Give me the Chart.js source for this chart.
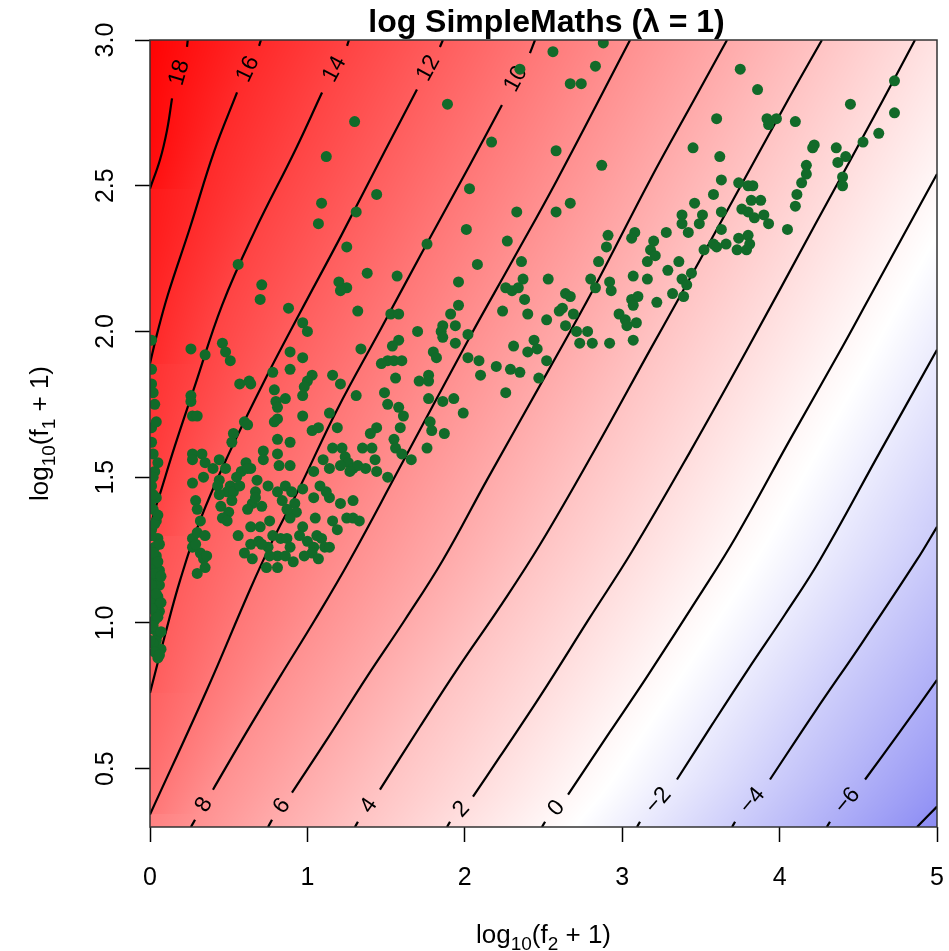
<!DOCTYPE html>
<html>
<head>
<meta charset="utf-8">
<script src="https://cdn.jsdelivr.net/npm/chart.js@4.4.0/dist/chart.umd.min.js"></script>
<style>
  html, body { margin: 0; padding: 0; background: #fff; }
</style>
</head>
<body>
<canvas id="c" width="949" height="951"></canvas>
<script>
// axis ticks
const xTicks = [0, 1, 2, 3, 4, 5];
const yTicks = [0.5, 1.0, 1.5, 2.0, 2.5, 3.0];

// contour lines, [log10(f2+1), log10(f1+1)], null = gap where the label sits
const contour18 = [[0.24,3.0],[0.235,2.976],null,[0.14,2.80],[0.108,2.69],[0.064,2.59],[0,2.49]];
const contour16 = [[0.705,3.0],[0.693,2.98],null,[0.553,2.82],[0.407,2.617],[0.254,2.356],[0.114,2.127],[0.044,1.99],[0,1.89]];
const contour14 = [[1.264,3.0],[1.252,2.98],null,[1.093,2.82],[0.921,2.62],[0.667,2.346],[0.457,2.089],[0.286,1.815],[0.159,1.609],[0.070,1.454],[0.019,1.364],[0,1.30]];
const contour12 = [[1.861,3.0],[1.842,2.976],null,[1.696,2.83],[1.493,2.62],[1.214,2.328],[0.953,2.064],[0.712,1.815],[0.496,1.575],[0.318,1.352],[0.191,1.146],[0.095,0.958],[0,0.76]];
const contour10 = [[2.446,3.0],[2.414,2.955],null,[2.236,2.777],[2.039,2.578],[1.747,2.29],[1.474,2.016],[1.188,1.731],[0.953,1.467],[0.781,1.285],[0.635,1.114],[0.362,0.771],[0,0.343]];
const contour8 = [[3.05,3.0],[2.586,2.52],[2.306,2.246],[2.033,1.982],[1.569,1.515],[1.271,1.217],[1.048,1.011],[0.826,0.816],[0.604,0.617],[0.40,0.428],null,[0.286,0.325],[0.26,0.30]];
const contour6 = [[3.666,3.0],[3.456,2.794],[3.177,2.52],[2.815,2.143],[2.541,1.876],[2.141,1.491],[1.862,1.217],[1.620,1.011],[1.379,0.816],[1.144,0.617],[0.902,0.418],null,[0.775,0.325],[0.75,0.30]];
const contour4 = [[4.269,3.0],[4.053,2.794],[3.704,2.451],[3.354,2.108],[3.177,1.937],[2.827,1.595],[2.478,1.269],[2.224,1.056],[1.963,0.850],[1.715,0.644],[1.461,0.428],null,[1.321,0.318],[1.302,0.30]];
const contour2 = [[4.86,3.0],[4.657,2.794],[4.225,2.366],[3.793,1.937],[3.431,1.587],[3.062,1.245],[2.795,1.019],[2.478,0.748],[2.224,0.542],[2.052,0.404],null,[1.906,0.318],[1.887,0.30]];
const contour0 = [[5.0,2.54],[4.562,2.108],[4.403,1.951],[4.066,1.629],[3.723,1.296],[3.494,1.097],[3.158,0.816],[2.923,0.627],[2.656,0.411],null,[2.51,0.318],[2.49,0.30]];
const contourM2 = [[5.0,1.937],[4.638,1.587],[4.257,1.217],[4.034,1.029],[3.799,0.84],[3.571,0.651],[3.348,0.463],null,[3.113,0.318],[3.094,0.30]];
const contourM4 = [[5.0,1.33],[4.873,1.217],[4.524,0.932],[4.225,0.696],[3.939,0.463],null,[3.717,0.318],[3.698,0.30]];
const contourM6 = [[5.0,0.805],[4.765,0.627],[4.543,0.463],null,[4.32,0.318],[4.30,0.30]];
const contourM8 = [[5.0,0.37],[4.873,0.30]];

const contourLevels = [18, 16, 14, 12, 10, 8, 6, 4, 2, 0, -2, -4, -6, -8];
const contourLines = [contour18, contour16, contour14, contour12, contour10, contour8, contour6,
  contour4, contour2, contour0, contourM2, contourM4, contourM6, contourM8];

// genes: [log10(f2+1), log10(f1+1)]
const genePoints = [
  [0.01,1.97],[0.01,1.82],[0.03,1.75],[0.01,1.67],[0.02,1.58],[0.03,1.52],[0.01,1.47],[0.04,1.43],
  [0.02,1.39],[0.04,1.35],[0.01,1.32],[0.05,1.29],[0.03,1.26],[0.04,1.23],[0.01,1.20],[0.06,1.18],
  [0.03,1.15],[0.01,1.11],[0.05,1.09],[0.03,1.06],[0.06,1.04],[0.03,1.01],[0.01,0.98],[0.05,0.96],
  [0.04,0.94],[0.07,0.91],[0.05,0.88],[0.0,1.41],[0.0,1.22],[0.0,1.08],[0.04,1.03],[0.02,0.93],
  [0.03,1.34],[0.06,1.13],[0.0,0.94],
  [0.02,1.44],[0.05,1.37],[0.01,1.30],[0.06,1.27],[0.02,1.24],[0.05,1.21],[0.03,1.17],[0.07,1.16],
  [0.01,1.13],[0.04,1.10],[0.07,1.07],[0.01,1.05],[0.05,1.02],[0.02,0.99],[0.07,0.97],[0.03,0.90],
  [0.06,0.89],[0.02,1.50],[0.05,1.55],[0.01,1.62],[0.04,1.69],[0.02,1.79],[0.01,1.87],
  [1.89,2.78],[1.30,2.72],[1.12,2.60],[1.44,2.47],[1.09,2.44],[1.31,2.41],[1.07,2.37],[2.03,2.49],
  [2.01,2.35],[1.25,2.29],[1.76,2.30],[0.56,2.23],[1.38,2.20],[1.57,2.19],[1.96,2.17],[0.71,2.16],
  [1.20,2.17],[1.25,2.15],[1.21,2.14],[0.70,2.11],[0.88,2.08],[1.32,2.07],[1.53,2.06],[1.58,2.06],
  [2.88,2.99],[2.56,2.96],[2.35,2.90],[2.83,2.91],[2.67,2.85],[2.74,2.85],[3.75,2.90],[3.86,2.83],
  [4.73,2.86],[4.73,2.75],[4.45,2.78],[4.63,2.68],[4.53,2.65],[2.17,2.65],[2.58,2.62],[2.87,2.57],
  [3.60,2.73],[3.92,2.73],[3.98,2.73],[3.93,2.71],[4.10,2.72],[3.45,2.63],[3.62,2.60],[4.22,2.64],
  [4.21,2.63],[4.36,2.63],[4.42,2.60],[4.37,2.58],[4.17,2.57],[4.17,2.54],[4.14,2.51],[4.40,2.53],
  [4.40,2.50],[4.11,2.47],[4.10,2.43],[4.05,2.35],
  [2.33,2.41],[2.58,2.41],[2.67,2.44],[2.27,2.31],[2.08,2.23],[2.36,2.24],[2.53,2.18],[2.26,2.15],
  [2.30,2.14],[2.34,2.15],[2.37,2.18],[2.38,2.11],[2.40,2.06],[2.24,2.07],[1.96,2.09],[1.91,2.06],
  [1.94,2.02],[1.86,2.02],[1.85,2.00],[1.86,1.98],[1.94,1.96],[2.02,1.99],[1.70,2.00],[1.58,1.97],
  [1.54,1.95],[1.80,1.93],[1.82,1.91],[1.51,1.90],[1.55,1.90],[1.60,1.90],[1.47,1.89],[2.02,1.91],
  [2.09,1.90],[2.20,1.88],[2.29,1.87],[2.35,1.86],[2.10,1.85],[2.31,1.95],[2.40,1.93],[2.44,1.97],
  [2.46,1.94],[2.52,1.90],[2.47,1.84],[2.26,1.79],[2.60,2.07],[2.62,2.08],[2.52,2.04],[2.64,2.13],
  [2.67,2.12],[2.69,2.06],[2.64,2.02],[2.71,2.00],[2.78,2.00],[2.73,1.96],[2.81,1.96],[2.92,1.96],
  [2.91,2.33],[2.90,2.29],[3.08,2.34],[3.06,2.32],[3.20,2.31],[3.18,2.28],[3.16,2.24],[2.85,2.24],
  [2.80,2.18],[2.92,2.17],[2.93,2.14],[2.83,2.15],[3.07,2.19],[3.16,2.18],[3.22,2.10],[3.06,2.11],
  [3.10,2.12],[3.07,2.09],[2.98,2.06],[3.02,2.04],[3.09,2.03],[3.03,2.02],[3.07,1.97],
  [1.56,1.84],[1.71,1.83],[1.77,1.85],[1.77,1.83],[1.77,1.77],[1.86,1.76],[1.93,1.77],[1.99,1.72],
  [1.49,1.79],[1.51,1.75],[1.58,1.74],[1.61,1.71],[1.59,1.67],[1.78,1.69],[1.79,1.66],[1.87,1.65],
  [1.76,1.60],[1.55,1.63],[1.56,1.60],[1.60,1.58],[1.66,1.56],[1.51,1.50],
  [3.63,2.52],[3.74,2.51],[3.80,2.50],[3.83,2.50],[3.58,2.47],[3.82,2.45],[3.88,2.45],[3.46,2.44],
  [3.63,2.41],[3.76,2.42],[3.80,2.41],[3.84,2.39],[3.90,2.40],[3.93,2.37],[3.38,2.40],[3.51,2.40],
  [3.38,2.37],[3.49,2.37],[3.42,2.34],[3.28,2.34],[3.21,2.26],[3.36,2.24],[3.63,2.35],[3.58,2.30],
  [3.66,2.30],[3.60,2.29],[3.52,2.28],[3.74,2.32],[3.80,2.33],[3.81,2.30],[3.73,2.28],[3.79,2.28],
  [3.29,2.21],[3.44,2.20],[3.38,2.18],[3.41,2.16],[3.32,2.13],[3.39,2.12],
  [0.97,2.03],[1.00,2.00],[0.26,1.94],[0.35,1.92],[0.46,1.96],[0.48,1.93],[0.51,1.90],[0.89,1.93],
  [0.97,1.91],[1.34,1.94],[0.78,1.86],[0.89,1.87],[0.57,1.82],[0.63,1.83],[0.64,1.82],[1.03,1.85],
  [1.00,1.83],[0.98,1.81],[0.97,1.78],[1.16,1.85],[1.21,1.82],[0.79,1.80],[0.80,1.76],[0.81,1.74],
  [0.86,1.77],[1.31,1.78],[0.26,1.78],[0.26,1.76],[0.27,1.71],[0.30,1.71],[0.60,1.69],[0.62,1.68],
  [0.79,1.69],[0.81,1.70],[0.97,1.71],[1.14,1.72],[1.03,1.66],[1.07,1.67],[1.19,1.67],[1.44,1.67],
  [1.40,1.65],[0.53,1.65],[0.52,1.62],[1.35,1.60],[1.41,1.60],[1.16,1.60],[1.22,1.60],[0.81,1.63],
  [0.89,1.62],[0.81,1.58],[0.82,1.54],[0.89,1.54],[0.72,1.59],[0.72,1.56],[1.04,1.52],[1.10,1.56],
  [1.24,1.57],[1.26,1.55],[1.29,1.53],[1.32,1.54],[1.27,1.52],[1.43,1.56],[1.44,1.52],[0.27,1.58],
  [0.33,1.58],[0.27,1.56],[0.44,1.56],[0.48,1.53],[0.34,1.50],[0.27,1.48],[0.44,1.49],[0.43,1.47],
  [0.61,1.55],[0.64,1.53],[0.58,1.52],[0.55,1.50],[0.68,1.49],[0.51,1.47],[0.49,1.45],[0.44,1.44],
  [0.53,1.45],[0.57,1.47],[0.75,1.47],[0.67,1.45],[0.65,1.41],[0.45,1.40],[0.50,1.38],[0.46,1.36],
  [0.49,1.35],[0.62,1.39],[0.29,1.42],[0.30,1.39],[0.64,1.33],[0.70,1.33],[0.76,1.35],[0.81,1.45],
  [0.84,1.42],[0.97,1.46],[1.04,1.43],[0.92,1.41],[0.93,1.38],[0.89,1.36],[0.97,1.33],[1.05,1.36],
  [1.14,1.43],[1.12,1.45],[1.21,1.41],[1.29,1.42],[1.25,1.36],[1.29,1.36],[1.16,1.35],[0.56,1.30],
  [0.64,1.27],[0.69,1.28],[0.75,1.26],[0.78,1.30],[0.83,1.29],[0.87,1.29],[0.89,1.26],[0.81,1.23],
  [0.86,1.23],[0.74,1.19],[0.81,1.19],[0.91,1.21],[0.65,1.22],[1.00,1.28],[1.06,1.30],[1.09,1.29],
  [1.04,1.26],[1.11,1.26],[1.14,1.26],[1.03,1.24],[0.27,1.29],[0.27,1.26],[0.30,1.31],[0.35,1.30],
  [0.32,1.24],[0.34,1.22],[0.35,1.19],[0.30,1.17],
  [0.62,1.53],[0.67,1.43],[0.71,1.40],[0.86,1.47],[0.90,1.45],[0.87,1.39],[0.95,1.30],[0.98,1.23],
  [1.07,1.22],[0.76,1.23],[0.71,1.27],[0.60,1.24],[0.32,1.35],[0.29,1.27],[0.36,1.23],[0.52,1.42],
  [0.40,1.53],[0.35,1.55],[1.21,1.54],[1.37,1.53],[1.14,1.53],[1.08,1.47],[1.19,1.32],[1.33,1.35]
];

// colour ramp: white near z = -0.7, red above, blue below
const zWhite = -0.7, zRedSpan = 20, zBlueSpan = 17;
function zColor(z) {
  const t = z - zWhite;
  if (t >= 0) {
    const f = Math.min(t / zRedSpan, 1);
    return [255, 255 * (1 - f), 255 * (1 - f)];
  }
  const f = Math.min(-t / zBlueSpan, 1);
  return [255 * (1 - f), 255 * (1 - f), 255 - 25 * f];
}

// background field: interpolate z along each pixel row between contour crossings
function buildHeatmap(chart) {
  const {chartArea: a, scales: {x: sx, y: sy}} = chart;
  const w = Math.round(a.right - a.left), h = Math.round(a.bottom - a.top);
  const lines = contourLevels.map((lv, i) => ({
    level: lv,
    pts: contourLines[i].filter(Boolean).map(p => [sx.getPixelForValue(p[0]), sy.getPixelForValue(p[1])])
  }));
  const off = document.createElement('canvas');
  off.width = w; off.height = h;
  const octx = off.getContext('2d');
  const img = octx.createImageData(w, h);
  for (let r = 0; r < h; r++) {
    const py = a.top + r + 0.5;
    const cross = [];
    lines.forEach(ln => {
      const p = ln.pts;
      for (let k = 0; k < p.length - 1; k++) {
        const y0 = p[k][1], y1 = p[k + 1][1];
        if (y0 !== y1 && (py - y0) * (py - y1) <= 0) {
          cross.push([p[k][0] + (p[k + 1][0] - p[k][0]) * (py - y0) / (y1 - y0), ln.level]);
          break;
        }
      }
    });
    cross.sort((m, n) => m[0] - n[0]);
    let k = 0;
    for (let c = 0; c < w; c++) {
      const px = a.left + c + 0.5;
      while (k < cross.length - 2 && px > cross[k + 1][0]) k++;
      const [xa, za] = cross[k], [xb, zb] = cross[k + 1];
      const col = zColor(za + (zb - za) * (px - xa) / (xb - xa));
      const o = (r * w + c) * 4;
      img.data[o] = col[0]; img.data[o + 1] = col[1]; img.data[o + 2] = col[2]; img.data[o + 3] = 255;
    }
  }
  octx.putImageData(img, 0, 0);
  return off;
}

function drawContourLabels(chart) {
  const {ctx, scales: {x: sx, y: sy}} = chart;
  ctx.save();
  ctx.font = '23px "Liberation Sans", Arial, sans-serif';
  ctx.fillStyle = '#000';
  ctx.textAlign = 'center';
  ctx.textBaseline = 'middle';
  contourLines.forEach((line, i) => {
    const g = line.indexOf(null);
    if (g < 1) return;
    let p0 = [sx.getPixelForValue(line[g - 1][0]), sy.getPixelForValue(line[g - 1][1])];
    let p1 = [sx.getPixelForValue(line[g + 1][0]), sy.getPixelForValue(line[g + 1][1])];
    if (p1[0] < p0[0]) [p0, p1] = [p1, p0];
    const lv = contourLevels[i];
    ctx.save();
    ctx.translate((p0[0] + p1[0]) / 2, (p0[1] + p1[1]) / 2);
    ctx.rotate(Math.atan2(p1[1] - p0[1], p1[0] - p0[0]));
    ctx.fillText(lv < 0 ? '\u2212' + (-lv) : String(lv), 0, 0);
    ctx.restore();
  });
  ctx.restore();
}

// text with plotmath-like subscripts, centred on (0,0) baseline
function drawSubText(ctx, parts) {
  const big = '26px "Liberation Sans", Arial, sans-serif';
  const small = '19px "Liberation Sans", Arial, sans-serif';
  let total = 0;
  parts.forEach(p => { ctx.font = p[1] ? small : big; total += ctx.measureText(p[0]).width; });
  let x = -total / 2;
  ctx.textAlign = 'left';
  ctx.textBaseline = 'alphabetic';
  parts.forEach(p => {
    ctx.font = p[1] ? small : big;
    ctx.fillText(p[0], x, p[1] ? 7 : 0);
    x += ctx.measureText(p[0]).width;
  });
}

let heatImg = null;
const decorPlugin = {
  id: 'decor',
  beforeDatasetsDraw(chart) {
    const {ctx, chartArea: a} = chart;
    if (!heatImg) heatImg = buildHeatmap(chart);
    ctx.drawImage(heatImg, a.left, a.top);
    drawContourLabels(chart);
  },
  afterDatasetsDraw(chart) {
    const {ctx, chartArea: a} = chart;
    ctx.save();
    ctx.strokeStyle = '#333';
    ctx.lineWidth = 1.5;
    ctx.strokeRect(a.left, a.top, a.right - a.left, a.bottom - a.top);
    ctx.restore();
  },
  afterDraw(chart) {
    const {ctx, chartArea: a} = chart;
    ctx.save();
    ctx.fillStyle = '#000';
    ctx.font = 'bold 32px "Liberation Sans", Arial, sans-serif';
    ctx.textAlign = 'center';
    ctx.textBaseline = 'alphabetic';
    ctx.fillText('log SimpleMaths (\u03bb = 1)', (a.left + a.right) / 2 + 3, 32);
    ctx.save();
    ctx.translate((a.left + a.right) / 2, 943);
    drawSubText(ctx, [['log', 0], ['10', 1], ['(f', 0], ['2', 1], [' + 1)', 0]]);
    ctx.restore();
    ctx.save();
    ctx.translate(48, (a.top + a.bottom) / 2);
    ctx.rotate(-Math.PI / 2);
    drawSubText(ctx, [['log', 0], ['10', 1], ['(f', 0], ['1', 1], [' + 1)', 0]]);
    ctx.restore();
    ctx.restore();
  }
};

Chart.defaults.font.family = '"Liberation Sans", Arial, Helvetica, sans-serif';
Chart.defaults.color = '#000';

const datasets = [{
  label: 'genes',
  data: genePoints.map(p => ({x: p[0], y: p[1]})),
  backgroundColor: '#126a29',
  borderWidth: 0,
  pointRadius: 5.5,
  pointHoverRadius: 5.5,
  showLine: false
}];
contourLines.forEach((line, i) => {
  datasets.push({
    label: 'z = ' + contourLevels[i],
    data: line.map(p => p ? {x: p[0], y: p[1]} : {x: null, y: null}),
    showLine: true,
    borderColor: '#000',
    borderWidth: 2.2,
    pointRadius: 0,
    tension: 0.4,
    spanGaps: false
  });
});

new Chart(document.getElementById('c'), {
  type: 'scatter',
  data: {datasets},
  options: {
    responsive: false,
    animation: false,
    layout: {padding: {top: 40, right: 12, left: 0, bottom: 0}},
    plugins: {legend: {display: false}, tooltip: {enabled: false}},
    scales: {
      x: {
        type: 'linear', min: 0, max: 5,
        afterBuildTicks: s => { s.ticks = xTicks.map(v => ({value: v})); },
        afterFit: s => { s.height = 124; s.paddingLeft = 0; s.paddingRight = 0; },
        ticks: {font: {size: 25}, padding: 21, callback: v => String(v)},
        grid: {drawOnChartArea: false, drawTicks: true, tickLength: 15, tickColor: '#000', tickWidth: 1.5},
        border: {display: false}
      },
      y: {
        type: 'linear', min: 0.3, max: 3.0,
        afterBuildTicks: s => { s.ticks = yTicks.map(v => ({value: v})); },
        afterFit: s => { s.width = 150; s.paddingTop = 0; s.paddingBottom = 0; },
        ticks: {font: {size: 25}, padding: 12, minRotation: 90, maxRotation: 90, crossAlign: 'center',
          callback: v => Number(v).toFixed(1)},
        grid: {drawOnChartArea: false, drawTicks: true, tickLength: 15, tickColor: '#000', tickWidth: 1.5},
        border: {display: false}
      }
    }
  },
  plugins: [decorPlugin]
});
</script>
</body>
</html>
